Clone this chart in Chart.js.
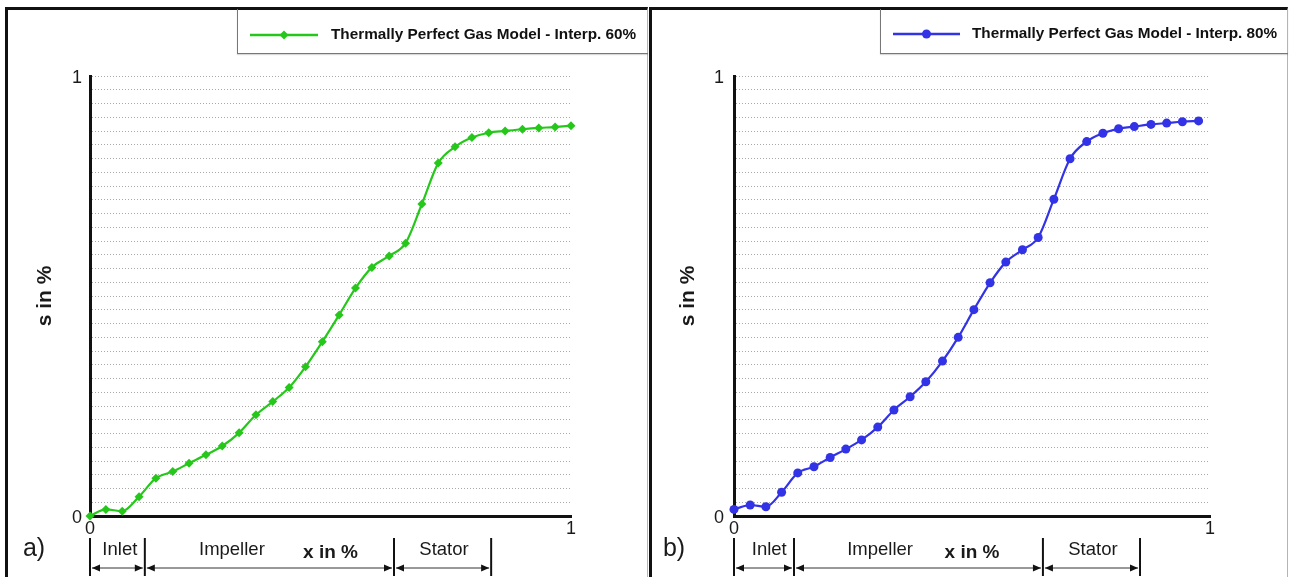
<!DOCTYPE html>
<html>
<head>
<meta charset="utf-8">
<script src="https://cdn.jsdelivr.net/npm/chart.js@4.4.1/dist/chart.umd.min.js"></script>
<style>
  body { margin: 0; background: #fff; }
  #page { position: relative; width: 1292px; height: 577px; overflow: hidden; background: #fff; }
  .frame { position: absolute; top: 7px; height: 590px; box-sizing: border-box;
           border-top: 3px solid #111; border-left: 3px solid #111; border-right: 1px solid #b4b4b4; }
  #frame-a { left: 5px; width: 643px; }
  #frame-b { left: 649px; width: 639px; }
  .legend-box { position: absolute; top: 9px; height: 45px; box-sizing: border-box;
                border-left: 1px solid #777; border-bottom: 1px solid #777;
                box-shadow: 0 1px 1px rgba(0, 0, 0, 0.15); }
  #legend-a { left: 237px; width: 411px; }
  #legend-b { left: 880px; width: 408px; }
  canvas { position: absolute; top: 0; }
  #chart-a { left: 0; }
  #chart-b { left: 650px; }
</style>
</head>
<body>
<div id="page">
  <div class="frame" id="frame-a"></div>
  <div class="frame" id="frame-b"></div>
  <div class="legend-box" id="legend-a"></div>
  <div class="legend-box" id="legend-b"></div>
  <canvas id="chart-a" width="650" height="577"></canvas>
  <canvas id="chart-b" width="642" height="577"></canvas>
</div>
<script>
// a) interpolation 60 %
const posA = [0, 0.033, 0.067, 0.102, 0.137, 0.172, 0.206, 0.241, 0.275, 0.310,
              0.345, 0.380, 0.414, 0.448, 0.483, 0.518, 0.552, 0.586, 0.622, 0.656,
              0.690, 0.724, 0.759, 0.794, 0.829, 0.863, 0.899, 0.933, 0.967, 1.0];
const entropyA = [0.0, 0.015, 0.011, 0.044, 0.086, 0.101, 0.120, 0.139, 0.159, 0.189,
                  0.230, 0.260, 0.292, 0.339, 0.396, 0.457, 0.518, 0.565, 0.591, 0.620,
                  0.709, 0.802, 0.839, 0.860, 0.871, 0.875, 0.879, 0.882, 0.884, 0.887];

// b) interpolation 80 %
const posB = [0, 0.034, 0.067, 0.100, 0.134, 0.168, 0.202, 0.235, 0.268, 0.302,
              0.336, 0.370, 0.403, 0.438, 0.471, 0.504, 0.538, 0.571, 0.606, 0.639,
              0.672, 0.706, 0.741, 0.775, 0.808, 0.841, 0.876, 0.909, 0.942, 0.976];
const entropyB = [0.015, 0.025, 0.021, 0.054, 0.098, 0.112, 0.133, 0.152, 0.173, 0.202,
                  0.241, 0.271, 0.305, 0.352, 0.406, 0.469, 0.530, 0.577, 0.605, 0.633,
                  0.720, 0.812, 0.851, 0.870, 0.880, 0.885, 0.890, 0.893, 0.896, 0.898];

const shownTicks = [0, 1];
const sectionNames = ['Inlet', 'Impeller', 'Stator'];
const sectionBoundsA = [0, 0.114, 0.632, 0.834];
const sectionLabelPosA = [0.062, 0.295, 0.736];
const sectionBoundsB = [0, 0.126, 0.649, 0.853];
const sectionLabelPosB = [0.074, 0.307, 0.754];

const FONT = '"Liberation Sans", Arial, sans-serif';
Chart.defaults.font.family = FONT;
Chart.defaults.color = '#1a1a1a';

function tickText(value) {
    return shownTicks.includes(value) ? String(value) : '';
}

function arrowHead(ctx, tipX, y, dir) {
    ctx.beginPath();
    ctx.moveTo(tipX, y);
    ctx.lineTo(tipX + dir * 8, y - 3.5);
    ctx.lineTo(tipX + dir * 8, y + 3.5);
    ctx.closePath();
    ctx.fill();
}

function drawMarker(ctx, style, r, x, y) {
    ctx.beginPath();
    if (style === 'rectRot') {
        ctx.moveTo(x, y - r);
        ctx.lineTo(x + r, y);
        ctx.lineTo(x, y + r);
        ctx.lineTo(x - r, y);
        ctx.closePath();
    } else {
        ctx.arc(x, y, r, 0, Math.PI * 2);
    }
    ctx.fill();
}

// brackets under the axis, panel tag and the framed legend sample
const panelDecor = {
    id: 'panelDecor',
    afterDraw(chart, args, opts) {
        const { ctx } = chart;
        const xScale = chart.scales.x;
        const ds = chart.data.datasets[0];
        ctx.save();

        const px = opts.bounds.map((v) => xScale.getPixelForValue(v));
        ctx.strokeStyle = '#111';
        ctx.lineWidth = 2;
        px.forEach((p) => {
            ctx.beginPath();
            ctx.moveTo(p, opts.barTop);
            ctx.lineTo(p, opts.barBottom);
            ctx.stroke();
        });

        ctx.lineWidth = 1;
        ctx.strokeStyle = '#333';
        ctx.fillStyle = '#111';
        for (let i = 0; i < px.length - 1; i++) {
            const a = px[i] + 2;
            const b = px[i + 1] - 2;
            ctx.beginPath();
            ctx.moveTo(a, opts.arrowY);
            ctx.lineTo(b, opts.arrowY);
            ctx.stroke();
            arrowHead(ctx, a, opts.arrowY, 1);
            arrowHead(ctx, b, opts.arrowY, -1);
        }

        ctx.fillStyle = '#1a1a1a';
        ctx.textAlign = 'center';
        ctx.textBaseline = 'middle';
        ctx.font = '18.5px ' + FONT;
        opts.names.forEach((name, i) => {
            ctx.fillText(name, xScale.getPixelForValue(opts.namePos[i]), opts.nameY);
        });

        ctx.font = '25px ' + FONT;
        ctx.fillText(opts.tag, opts.tagX, opts.tagY);

        // legend
        const [l0, l1] = opts.legendLine;
        ctx.strokeStyle = ds.borderColor;
        ctx.lineWidth = 2.5;
        ctx.beginPath();
        ctx.moveTo(l0, opts.legendY);
        ctx.lineTo(l1, opts.legendY);
        ctx.stroke();
        ctx.fillStyle = ds.borderColor;
        drawMarker(ctx, ds.pointStyle, ds.pointRadius, (l0 + l1) / 2, opts.legendY);
        ctx.fillStyle = '#111';
        ctx.textAlign = 'left';
        ctx.font = 'bold 15.3px ' + FONT;
        ctx.fillText(ds.label, opts.legendTextX, opts.legendY);

        ctx.restore();
    }
};

function buildChart(canvasId, cfg) {
    return new Chart(document.getElementById(canvasId), {
        type: 'line',
        data: {
            datasets: [{
                label: cfg.label,
                data: cfg.xs.map((x, i) => ({ x: x, y: cfg.ys[i] })),
                borderColor: cfg.color,
                backgroundColor: cfg.color,
                borderWidth: 2.2,
                pointStyle: cfg.marker,
                pointRadius: cfg.radius,
                pointBorderWidth: 0,
                cubicInterpolationMode: 'monotone',
                clip: false
            }]
        },
        options: {
            responsive: false,
            animation: false,
            devicePixelRatio: 1,
            layout: { padding: { top: 76, right: cfg.padRight, bottom: 0, left: 0 } },
            plugins: {
                legend: { display: false },
                tooltip: { enabled: false },
                panelDecor: cfg.decor
            },
            scales: {
                x: {
                    type: 'linear',
                    min: 0,
                    max: 1,
                    grid: { display: false },
                    border: { color: '#111', width: 3 },
                    ticks: { stepSize: 1, padding: -6, font: { size: 18 }, callback: tickText },
                    title: {
                        display: true,
                        text: 'x in %',
                        font: { size: 19, weight: 'bold' },
                        padding: { top: 0, bottom: 13 }
                    },
                    afterFit(scale) { scale.height = 61; }
                },
                y: {
                    min: 0,
                    max: 1,
                    grid: { color: '#a9a9a9', lineWidth: 1, drawTicks: false },
                    border: { color: '#111', width: 3, dash: [1, 2] },
                    ticks: {
                        stepSize: 1 / 32,
                        autoSkip: false,
                        padding: cfg.yTickPad,
                        labelOffset: 2,
                        font: { size: 18 },
                        callback: tickText
                    },
                    title: {
                        display: true,
                        text: 's in %',
                        font: { size: 21, weight: 'bold' },
                        padding: { top: cfg.yTitlePad, bottom: 0 }
                    },
                    afterFit(scale) { scale.width = cfg.axisLeft; }
                }
            }
        },
        plugins: [panelDecor]
    });
}

buildChart('chart-a', {
    label: 'Thermally Perfect Gas Model - Interp. 60%',
    xs: posA,
    ys: entropyA,
    color: '#25c81a',
    marker: 'rectRot',
    radius: 4.5,
    padRight: 79,
    axisLeft: 90,
    yTickPad: 8,
    yTitlePad: 33,
    decor: {
        bounds: sectionBoundsA, names: sectionNames, namePos: sectionLabelPosA,
        barTop: 538, barBottom: 576, arrowY: 568, nameY: 550,
        tag: 'a)', tagX: 34, tagY: 549,
        legendLine: [250, 318], legendY: 35, legendTextX: 331
    }
});

buildChart('chart-b', {
    label: 'Thermally Perfect Gas Model - Interp. 80%',
    xs: posB,
    ys: entropyB,
    color: '#3232e6',
    marker: 'circle',
    radius: 4.5,
    padRight: 82,
    axisLeft: 84,
    yTickPad: 10,
    yTitlePad: 26,
    decor: {
        bounds: sectionBoundsB, names: sectionNames, namePos: sectionLabelPosB,
        barTop: 538, barBottom: 576, arrowY: 568, nameY: 550,
        tag: 'b)', tagX: 24, tagY: 549,
        legendLine: [243, 310], legendY: 34, legendTextX: 322
    }
});
</script>
</body>
</html>
